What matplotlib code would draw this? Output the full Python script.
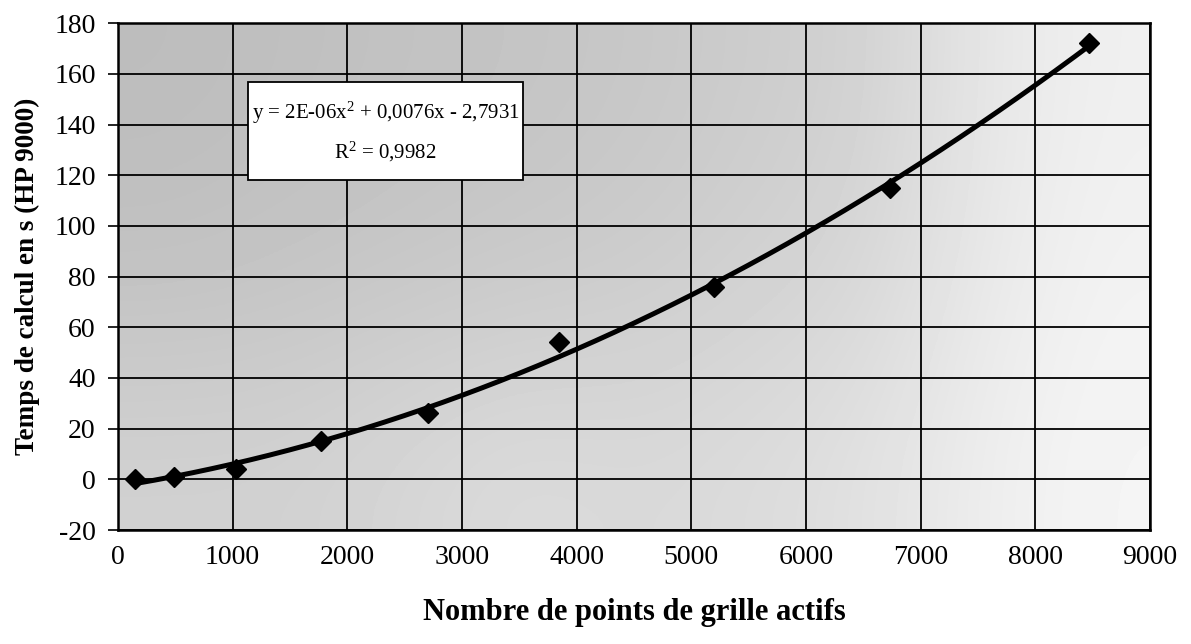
import numpy as np
import matplotlib
matplotlib.use("Agg")
import matplotlib.pyplot as plt
from matplotlib.patches import Rectangle

# Data
grid_points = [150, 490, 1030, 1770, 2700, 3850, 5200, 6730, 8470]
calc_time = [0, 1, 4, 15, 26, 54, 76, 115, 172]

x_ticks = list(range(0, 9001, 1000))
y_ticks = list(range(-20, 181, 20))

equation_text = "y = 2E-06x$^2$ + 0,0076x - 2,7931\nR$^2$ = 0,9982"

plt.rcParams['font.family'] = ['Liberation Serif', 'DejaVu Serif']
plt.rcParams['mathtext.fontset'] = 'custom'
plt.rcParams['mathtext.rm'] = 'Liberation Serif'
plt.rcParams['mathtext.it'] = 'Liberation Serif:italic'
plt.rcParams['axes.unicode_minus'] = False

fig = plt.figure(figsize=(11.91, 6.44), dpi=100)
ax = fig.add_axes([0.099, 0.177, 0.8666, 0.787])

# stippled grey background of the scan, approximated by a soft gradient
grad = np.array([[0.74, 0.75, 0.76, 0.77, 0.78, 0.80, 0.82, 0.90, 0.94],
                 [0.76, 0.77, 0.78, 0.79, 0.80, 0.82, 0.84, 0.91, 0.95],
                 [0.82, 0.82, 0.84, 0.86, 0.85, 0.86, 0.88, 0.93, 0.96]])
ax.imshow(grad, cmap='gray', vmin=0, vmax=1, aspect='auto',
          extent=[0, 1, 0, 1], transform=ax.transAxes, zorder=0,
          interpolation='bicubic')

# polynomial trend line (order 2) fitted on the points
coef = np.polyfit(grid_points, calc_time, 2)
xs = np.linspace(min(grid_points), max(grid_points), 200)
ax.plot(xs, np.polyval(coef, xs), color='black', lw=3.6, zorder=3,
        solid_capstyle='round')
ax.plot(grid_points, calc_time, linestyle='none', marker='D',
        markersize=10.5, color='black', zorder=4)

ax.set_xlim(0, 9000)
ax.set_ylim(-20, 180)
ax.set_xticks(x_ticks)
ax.set_yticks(y_ticks)
ax.grid(True, color='black', lw=1.3, zorder=1)
ax.set_axisbelow(True)
for s in ax.spines.values():
    s.set_linewidth(1.8)

ax.tick_params(axis='y', direction='out', length=7, width=1.2, pad=9,
               labelsize=20)
ax.tick_params(axis='x', length=0, pad=11, labelsize=20)

ax.set_xlabel("Nombre de points de grille actifs", fontsize=22,
              fontweight='bold', labelpad=20)
ax.set_ylabel("Temps de calcul en s (HP 9000)", fontsize=19.5,
              fontweight='bold', labelpad=10)

# equation box of the trend line
ax.add_patch(Rectangle((1134, 118), 2398, 38.7, facecolor='white',
                       edgecolor='black', lw=1.3, zorder=5))
ax.text(2333, 137.0, equation_text, ha='center', va='center', fontsize=15,
        linespacing=1.75, zorder=6)

fig.savefig("out.png", dpi=100)
